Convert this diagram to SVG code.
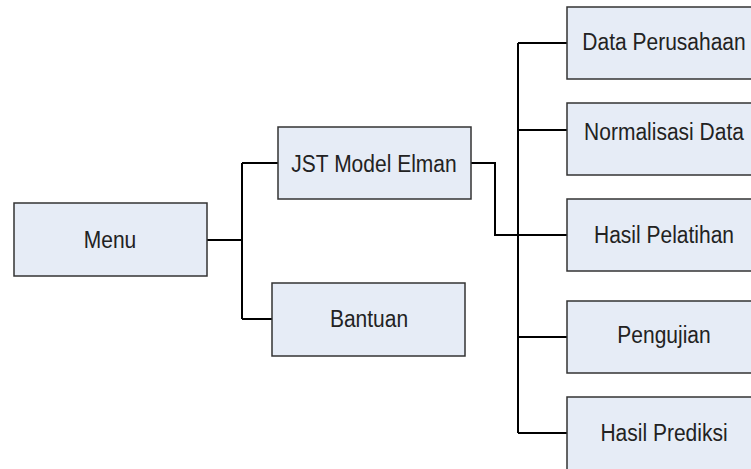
<svg xmlns="http://www.w3.org/2000/svg" width="751" height="469" viewBox="0 0 751 469">
  <style>
    .box { fill: #e6ecf6; stroke: #333333; stroke-width: 1.5; }
    .lbl { font-family: "Liberation Sans", Arial, sans-serif; font-size: 21px; fill: #222222; text-anchor: middle; }
    .wire { fill: none; stroke: #000000; stroke-width: 2; }
  </style>
  <rect width="751" height="469" fill="#ffffff"/>

  <g id="connectors">
    <path class="wire" d="M207 240 H242"/>
    <path class="wire" d="M242 163 V319"/>
    <path class="wire" d="M242 163 H278"/>
    <path class="wire" d="M242 319 H272"/>
    <path class="wire" d="M471 163 H495 V235 H567"/>
    <path class="wire" d="M518 43 V433"/>
    <path class="wire" d="M518 43 H567"/>
    <path class="wire" d="M518 130 H567"/>
    <path class="wire" d="M518 337 H567"/>
    <path class="wire" d="M518 433 H567"/>
  </g>

  <g id="menu">
    <rect class="box" x="14" y="203" width="193" height="73"/>
    <text class="lbl" transform="translate(110,248) scale(1,1.1)">Menu</text>
  </g>
  <g id="jst-model-elman">
    <rect class="box" x="278" y="127" width="193" height="72"/>
    <text class="lbl" transform="translate(374,172) scale(1,1.1)">JST Model Elman</text>
  </g>
  <g id="bantuan">
    <rect class="box" x="272" y="283" width="193" height="73"/>
    <text class="lbl" transform="translate(369,327) scale(1,1.1)">Bantuan</text>
  </g>
  <g id="data-perusahaan">
    <rect class="box" x="567" y="7" width="193" height="72"/>
    <text class="lbl" transform="translate(664,50) scale(1,1.1)">Data Perusahaan</text>
  </g>
  <g id="normalisasi-data">
    <rect class="box" x="567" y="103" width="193" height="72"/>
    <text class="lbl" transform="translate(664,140) scale(1,1.1)">Normalisasi Data</text>
  </g>
  <g id="hasil-pelatihan">
    <rect class="box" x="567" y="199" width="193" height="72"/>
    <text class="lbl" transform="translate(664,243) scale(1,1.1)">Hasil Pelatihan</text>
  </g>
  <g id="pengujian">
    <rect class="box" x="567" y="301" width="193" height="72"/>
    <text class="lbl" transform="translate(664,343) scale(1,1.1)">Pengujian</text>
  </g>
  <g id="hasil-prediksi">
    <rect class="box" x="567" y="397" width="193" height="80"/>
    <text class="lbl" transform="translate(664,441) scale(1,1.1)">Hasil Prediksi</text>
  </g>
</svg>
